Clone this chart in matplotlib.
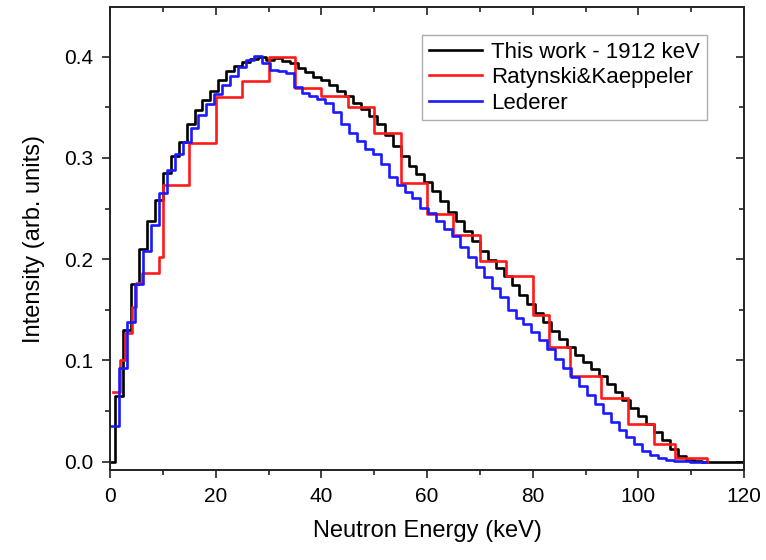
import numpy as np
import matplotlib
matplotlib.use("Agg")
import matplotlib.pyplot as plt
from matplotlib.ticker import MultipleLocator, FormatStrFormatter

plt.rcParams['font.family'] = ['Liberation Sans', 'DejaVu Sans']

# ---- data ----
# This work - 1912 keV (bin edges in keV, intensities per bin)
work_edges = [0.0] + list(np.arange(1.0, 112.01, 1.5)) + [120.0]
work_vals = [0.0,
             0.065, 0.130, 0.175, 0.210, 0.238, 0.258, 0.285, 0.302, 0.316, 0.333,
             0.347, 0.357, 0.366, 0.377, 0.386, 0.391, 0.395, 0.398, 0.400, 0.397,
             0.399, 0.396, 0.394, 0.389, 0.385, 0.380, 0.377, 0.372, 0.366, 0.361,
             0.354, 0.348, 0.341, 0.333, 0.323, 0.312, 0.302, 0.292, 0.284, 0.276,
             0.267, 0.257, 0.247, 0.238, 0.228, 0.218, 0.208, 0.199, 0.191, 0.183,
             0.174, 0.165, 0.156, 0.147, 0.138, 0.129, 0.121, 0.113, 0.105, 0.098,
             0.092, 0.085, 0.077, 0.069, 0.061, 0.053, 0.045, 0.037, 0.029, 0.021,
             0.013, 0.006, 0.002, 0.0008,
             0.0]

# Ratynski & Kaeppeler
rk_edges = [0.6, 1.9, 2.8, 4.1, 4.9, 6.0, 9.2, 10.0, 15.0, 20.0, 25.0, 30.0, 35.0,
            40.0, 45.0, 50.0, 55.0, 60.0, 65.0, 70.0, 75.0, 80.0, 83.0, 87.0, 93.0,
            98.0, 103.0, 107.0, 113.0]
rk_vals = [0.069, 0.100, 0.127, 0.153, 0.176, 0.186, 0.202, 0.273, 0.3145, 0.360,
           0.376, 0.400, 0.369, 0.361, 0.350, 0.325, 0.2755, 0.245, 0.224, 0.198,
           0.183, 0.1446, 0.113, 0.085, 0.063, 0.037, 0.017, 0.0036]

# Lederer
led_edges = list(np.arange(0.25, 112.76, 1.5))
led_vals = [0.035, 0.093, 0.138, 0.175, 0.208, 0.234, 0.265, 0.288, 0.304, 0.316,
            0.330, 0.342, 0.353, 0.363, 0.372, 0.381, 0.390, 0.397, 0.401, 0.394,
            0.387, 0.386, 0.384, 0.370, 0.364, 0.361, 0.358, 0.354, 0.345, 0.333,
            0.325, 0.317, 0.309, 0.304, 0.294, 0.281, 0.273, 0.266, 0.260, 0.251,
            0.246, 0.238, 0.230, 0.223, 0.212, 0.202, 0.192, 0.182, 0.172, 0.163,
            0.150, 0.142, 0.136, 0.128, 0.120, 0.111, 0.101, 0.093, 0.084, 0.075,
            0.066, 0.057, 0.048, 0.039, 0.031, 0.024, 0.017, 0.011, 0.007, 0.004,
            0.002, 0.001, 0.0005, 0.0002, 0.0]

labels = ["This work - 1912 keV", "Ratynski&Kaeppeler", "Lederer"]
colors = ["#000000", "#ff1a1a", "#1a1aff"]

# ---- plot ----
fig = plt.figure(figsize=(7.66, 5.6), dpi=100)
ax = fig.add_axes([0.1436, 0.1607, 0.8277, 0.8268])

def step(ax, edges, vals, close=False, **kw):
    e = np.asarray(edges, float)
    v = list(vals)
    if close:
        y = v + [0.0]
    else:
        y = v + [v[-1]]
    return ax.step(e, y, where='post', **kw)

lw = 1.9
step(ax, work_edges, work_vals, close=False, color=colors[0], lw=lw, label=labels[0])
step(ax, rk_edges, rk_vals, close=True, color=colors[1], lw=lw, label=labels[1])
step(ax, led_edges, led_vals, close=False, color=colors[2], lw=lw, label=labels[2])

ax.set_xlim(0, 120)
ax.set_ylim(-0.0082, 0.449)
ax.xaxis.set_major_locator(MultipleLocator(20))
ax.xaxis.set_minor_locator(MultipleLocator(10))
ax.yaxis.set_major_locator(MultipleLocator(0.1))
ax.yaxis.set_minor_locator(MultipleLocator(0.05))
ax.yaxis.set_major_formatter(FormatStrFormatter('%.1f'))

for s in ax.spines.values():
    s.set_linewidth(1.4)
    s.set_color('#222222')

ax.tick_params(which='both', direction='out', top=False, right=False,
               labelsize=15, width=1.2, color='#222222', pad=6)
ax.tick_params(which='major', length=6)
ax.tick_params(which='minor', length=3.5)

# inward ticks on top and right
axt = ax.secondary_xaxis('top')
axt.xaxis.set_major_locator(MultipleLocator(20))
axt.xaxis.set_minor_locator(MultipleLocator(10))
axt.tick_params(which='both', direction='in', labeltop=False, width=1.2, color='#222222')
axt.tick_params(which='major', length=6)
axt.tick_params(which='minor', length=3.5)
axt.spines['top'].set_visible(False)
axr = ax.secondary_yaxis('right')
axr.yaxis.set_major_locator(MultipleLocator(0.1))
axr.yaxis.set_minor_locator(MultipleLocator(0.05))
axr.tick_params(which='both', direction='in', labelright=False, width=1.2, color='#222222')
axr.tick_params(which='major', length=6)
axr.tick_params(which='minor', length=3.5)
axr.spines['right'].set_visible(False)

ax.set_xlabel("Neutron Energy (keV)", fontsize=17, labelpad=10)
ax.set_ylabel("Intensity (arb. units)", fontsize=17, labelpad=14)

leg = ax.legend(loc='upper right', bbox_to_anchor=(0.9415, 0.9395), fontsize=16,
                frameon=True, fancybox=False, handlelength=2.4, handletextpad=0.4,
                labelspacing=0.2, borderpad=0.3, borderaxespad=0.0)
leg.get_frame().set_edgecolor('#999999')
leg.get_frame().set_linewidth(1.0)

fig.savefig("out.png", dpi=100)
